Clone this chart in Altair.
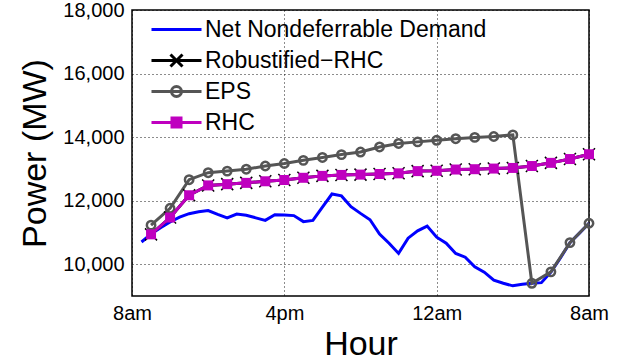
import altair as alt
import pandas as pd

# ---- data ----
net_hours = [0.5, 1.0, 1.5, 2.0, 2.5, 3.0, 3.5, 4.0, 4.5, 5.0, 5.5, 6.0, 6.5, 7.0, 7.5, 8.0,
             8.5, 9.0, 9.5, 10.0, 10.5, 11.0, 11.5, 12.0, 12.5, 13.0, 13.5, 14.0, 14.5, 15.0,
             15.5, 16.0, 16.5, 17.0, 17.5, 18.0, 18.5, 19.0, 19.5, 20.0, 20.5, 21.0, 21.5,
             22.0, 22.5, 23.0, 23.5, 24.0]
net_demand = [10700, 10950, 11150, 11330, 11480, 11590, 11650, 11690, 11570, 11460, 11580,
              11540, 11460, 11380, 11560, 11550, 11530, 11340, 11380, 11800, 12210, 12150,
              11810, 11600, 11400, 10950, 10660, 10340, 10820, 11050, 11200, 10850, 10660,
              10340, 10220, 9920, 9750, 9500, 9400, 9320, 9370, 9400, 9420, 9750, 10200,
              10680, 10980, 11290]

ctrl_hours = [1, 2, 3, 4, 5, 6, 7, 8, 9, 10, 11, 12, 13, 14, 15, 16, 17, 18, 19, 20, 21, 22, 23, 24]
eps = [11230, 11760, 12660, 12880, 12930, 12990, 13090, 13170, 13270, 13360, 13450, 13530,
       13690, 13800, 13850, 13900, 13950, 13990, 14020, 14070, 9400, 9760, 10680, 11290]
rhc = [10940, 11470, 12170, 12480, 12520, 12560, 12610, 12650, 12720, 12780, 12810, 12820,
       12840, 12860, 12930, 12940, 12980, 12990, 13010, 13030, 13090, 13190, 13310, 13460]
robust_rhc = [10940, 11470, 12170, 12480, 12520, 12560, 12610, 12650, 12720, 12780, 12810, 12820,
              12840, 12860, 12930, 12940, 12980, 12990, 13010, 13030, 13090, 13190, 13310, 13460]

series_names = ["Net Nondeferrable Demand", "Robustified\u2212RHC", "EPS", "RHC"]
series_colors = ["#0000ff", "#000000", "#555555", "#bf00bf"]
series_fills = ["transparent", "transparent", "transparent", "#bf00bf"]
legend_paths = [
    "M-1.667,0L1.667,0",
    "M-1.667,0L1.667,0M-0.4,-0.4L0.4,0.4M-0.4,0.4L0.4,-0.4",
    "M-1.667,0L1.667,0M-0.333,0A0.333,0.333,0,1,0,0.333,0A0.333,0.333,0,1,0,-0.333,0",
    "M-1.667,0L1.667,0M-0.3,-0.3L0.3,-0.3L0.3,0.3L-0.3,0.3Z",
]

x_ticks = [0, 8, 16, 24]
x_tick_labels = ["8am", "4pm", "12am", "8am"]
y_ticks = [10000, 12000, 14000, 16000, 18000]
y_domain = [9000, 18000]

FONT = "Liberation Sans"

label_expr = " : ".join(
    f"datum.value == {v} ? '{t}'" for v, t in zip(x_ticks, x_tick_labels)
) + " : ''"

df_net = pd.DataFrame({"hour": net_hours, "power": net_demand})
df_eps = pd.DataFrame({"hour": ctrl_hours, "power": eps})
df_rhc = pd.DataFrame({"hour": ctrl_hours, "power": rhc})
df_rob = pd.DataFrame({"hour": ctrl_hours, "power": robust_rhc})
df_leg = pd.DataFrame({"series": series_names})

x_enc = alt.X("hour:Q",
              scale=alt.Scale(domain=[0, 24], nice=False, zero=False),
              axis=alt.Axis(values=x_ticks, labelExpr=label_expr, title="Hour",
                            grid=True, ticks=False, tickSize=0, domain=False,
                            labelPadding=7, titlePadding=4, labelFlush=False))
y_enc = alt.Y("power:Q",
              scale=alt.Scale(domain=y_domain, nice=False, zero=False),
              axis=alt.Axis(values=y_ticks, format=",.0f", title="Power (MW)",
                            grid=True, ticks=False, tickSize=0, domain=False,
                            labelPadding=8, titlePadding=10, labelFlush=False))

blue = alt.Chart(df_net).mark_line(color="#0000ff", strokeWidth=3).encode(x=x_enc, y=y_enc)

eps_line = alt.Chart(df_eps).mark_line(color="#555555", strokeWidth=3).encode(x="hour:Q", y="power:Q")
eps_pts = alt.Chart(df_eps).mark_point(shape="circle", size=70, filled=False, color="#555555",
                                       strokeWidth=2.5, opacity=1).encode(x="hour:Q", y="power:Q")

rob_line = alt.Chart(df_rob).mark_line(color="#000000", strokeWidth=3).encode(x="hour:Q", y="power:Q")
rob_pts = alt.Chart(df_rob).mark_point(shape="M-1,-1L1,1M-1,1L1,-1", size=144, filled=False,
                                       color="#000000", strokeWidth=1.5, opacity=1).encode(x="hour:Q", y="power:Q")

rhc_line = alt.Chart(df_rhc).mark_line(color="#bf00bf", strokeWidth=3).encode(x="hour:Q", y="power:Q")
rhc_pts = alt.Chart(df_rhc).mark_point(shape="square", size=100, filled=True,
                                       color="#bf00bf", opacity=1).encode(x="hour:Q", y="power:Q")

leg = alt.Legend(title=None, orient="none", legendX=28, legendY=3, labelFont=FONT,
                 labelFontSize=23, labelColor="black", symbolSize=900, labelOffset=12,
                 rowPadding=2, labelLimit=500, padding=0, symbolStrokeWidth=3)

legend_layer = alt.Chart(df_leg).mark_point(filled=False, strokeWidth=3, opacity=1).encode(
    stroke=alt.Stroke("series:N", scale=alt.Scale(domain=series_names, range=series_colors),
                      legend=leg, sort=series_names),
    fill=alt.Fill("series:N", scale=alt.Scale(domain=series_names, range=series_fills),
                  legend=leg, sort=series_names),
    shape=alt.Shape("series:N", scale=alt.Scale(domain=series_names, range=legend_paths),
                    legend=leg, sort=series_names),
).transform_filter("false")

chart = alt.layer(blue, eps_line, eps_pts, rob_line, rob_pts, rhc_line, rhc_pts, legend_layer).properties(
    width=457, height=286,
    autosize=alt.AutoSizeParams(type="none"),
    padding={"left": 132, "top": 10, "right": 45, "bottom": 68},
    background="white",
).configure_view(
    stroke="black", strokeWidth=1.5
).configure_axis(
    labelFont=FONT, labelFontSize=20, labelColor="black",
    titleFont=FONT, titleFontSize=34, titleFontWeight="normal", titleColor="black",
    gridColor="#000000", gridDash=[1, 3], gridWidth=1, gridOpacity=0.9,
).configure_legend(
    symbolStrokeWidth=3
)

chart.save("out.html", embed_options={"renderer": "svg", "actions": False})
